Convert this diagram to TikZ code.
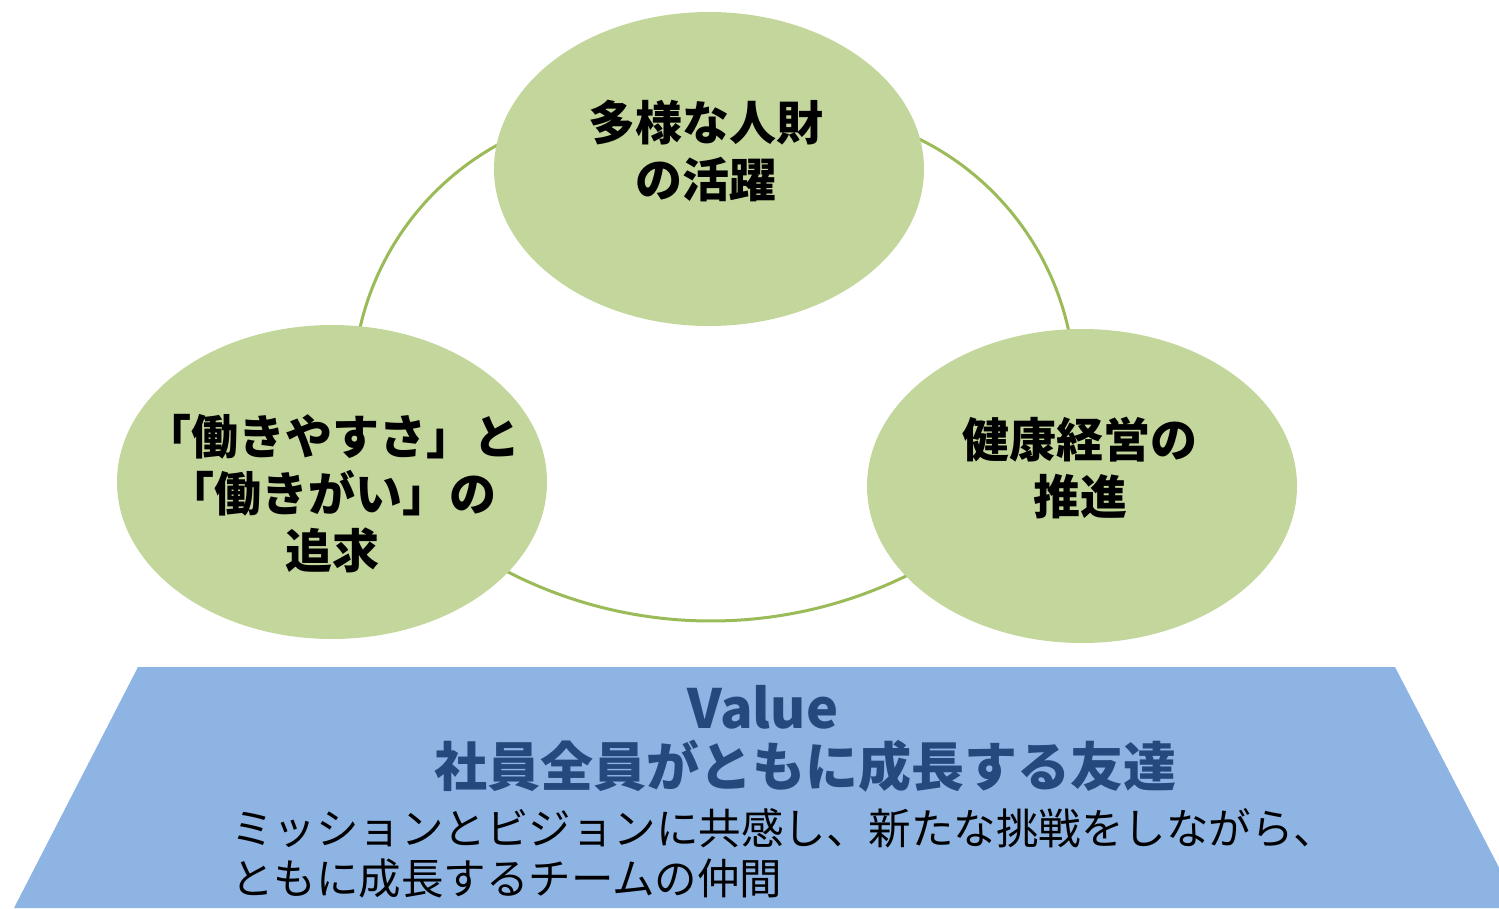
\documentclass[tikz,border=0pt]{standalone}
\usepackage{fontspec}
\newfontfamily\cjk{Noto Sans CJK JP}
\usetikzlibrary{shapes.geometric}
\definecolor{ringgreen}{RGB}{155,187,89}
\definecolor{ellfill}{RGB}{195,214,155}
\definecolor{trapfill}{RGB}{142,180,227}
\definecolor{valueblue}{RGB}{36,74,125}
\tikzset{
  ring/.style={draw=ringgreen, line width=3pt},
  bubble/.style={ellipse, fill=ellfill, draw=none, minimum width=430pt, minimum height=314pt, inner sep=0pt},
  bubbletext/.style={align=center, inner sep=0pt, font=\cjk\bfseries\fontsize{47}{57}\selectfont, text=black},
}
\begin{document}
\begin{tikzpicture}[x=1pt,y=-1pt]
\useasboundingbox (0,0) rectangle (1499,908);
% rings (arcs); y axis points down, so angles are measured clockwise
\coordinate (cl) at (633,390);
\coordinate (cr) at (795,390);
\coordinate (cb) at (711,176);
\draw[ring] (cl) ++(-110:280) arc[start angle=-110, end angle=-175, radius=280];
\draw[ring] (cr) ++(-70:280) arc[start angle=-70, end angle=-5, radius=280];
\draw[ring] (cb) ++(125:445) arc[start angle=125, end angle=55, radius=445];
% bubbles
\node[bubble] (top) at (709,169) {};
\node[bubble] (left) at (332,482) {};
\node[bubble] (right) at (1082,486) {};
\node[bubbletext] (toptext) at (706,151) {多様な人財\\の活躍};
\node[bubbletext] (lefttext) at (332,494) {「働きやすさ」と\\「働きがい」の\\追求};
\node[bubbletext] (righttext) at (1080,468) {健康経営の\\推進};
% trapezoid base
\begin{scope}
\clip (0,0) rectangle (1499,908);
\fill[trapfill] (138,667) -- (1395,667) -- (1520,908) -- (14,908) -- cycle;
\end{scope}
\node[inner sep=0pt, text=valueblue, font=\cjk\bfseries\fontsize{54}{60}\selectfont] (value) at (763,707) {Value};
\node[inner sep=0pt, text=valueblue, font=\cjk\bfseries\fontsize{53}{60}\selectfont] (valuetitle) at (805,766) {社員全員がともに成長する友達};
\node[inner sep=0pt, anchor=west, align=left, text=black, font=\cjk\fontsize{42.5}{50}\selectfont] (valuedesc) at (231,853) {ミッションとビジョンに共感し、新たな挑戦をしながら、\\ともに成長するチームの仲間};
\end{tikzpicture}
\end{document}
